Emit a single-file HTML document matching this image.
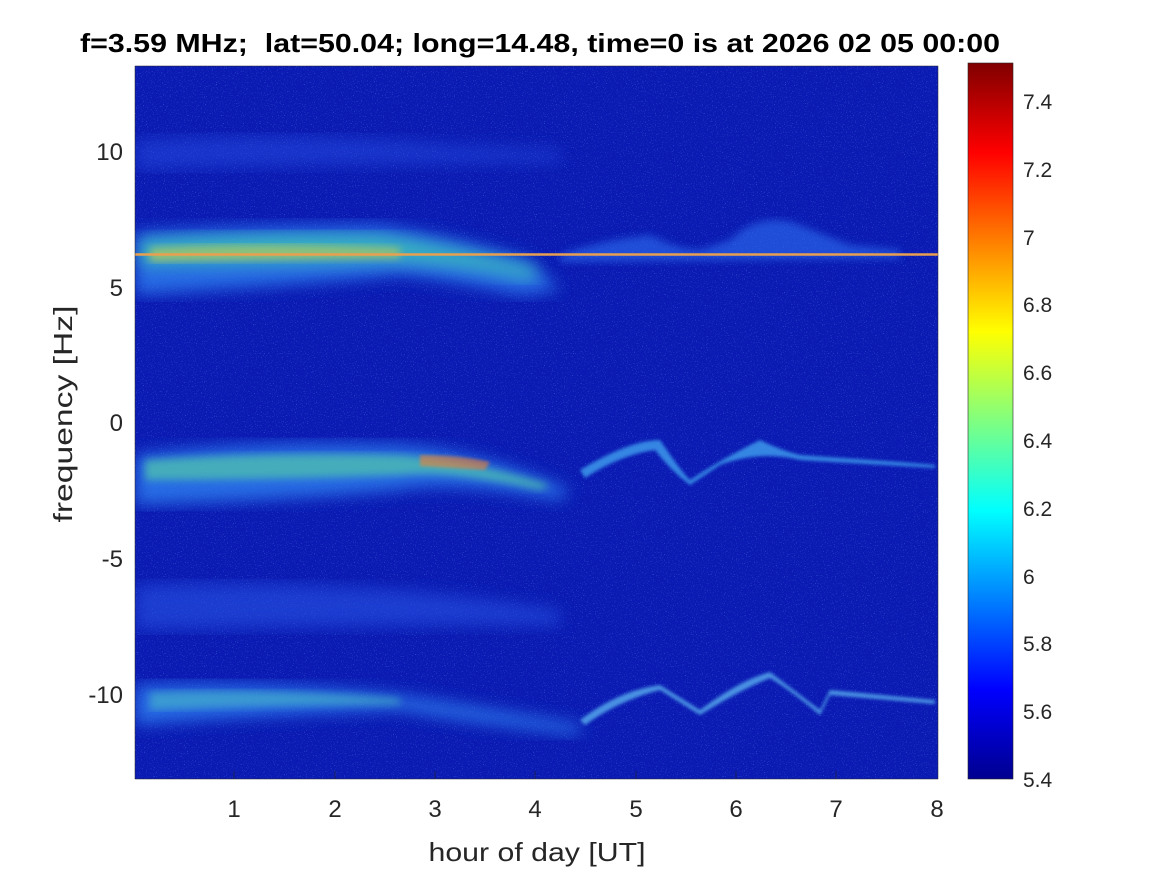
<!DOCTYPE html>
<html><head><style>
body{margin:0;background:#fff;width:1167px;height:875px;overflow:hidden}
svg text{font-family:"Liberation Sans",sans-serif}
</style></head><body>
<svg width="1167" height="875" xmlns="http://www.w3.org/2000/svg">
<defs>
<filter id="b8"><feGaussianBlur stdDeviation="8"/></filter>
<filter id="b4"><feGaussianBlur stdDeviation="4"/></filter>
<filter id="b2"><feGaussianBlur stdDeviation="1.5"/></filter>
<filter id="noise" x="0" y="0" width="100%" height="100%">
<feTurbulence type="fractalNoise" baseFrequency="0.9" numOctaves="1" seed="3"/>
<feColorMatrix values="0 0 0 0 0.15  0 0 0 0 0.4  0 0 0 0 1  0 0 0 3 -1.8"/>
</filter>
<linearGradient id="jet" x1="0" y1="1" x2="0" y2="0">
<stop offset="0" stop-color="#00008f"/>
<stop offset="0.125" stop-color="#0000ff"/>
<stop offset="0.375" stop-color="#00ffff"/>
<stop offset="0.5" stop-color="#80ff80"/>
<stop offset="0.625" stop-color="#ffff00"/>
<stop offset="0.875" stop-color="#ff0000"/>
<stop offset="1" stop-color="#800000"/>
</linearGradient>
<clipPath id="cp"><rect x="135" y="66" width="803" height="713"/></clipPath>
</defs>
<rect x="135" y="66" width="803" height="713" fill="#0a1ab2"/>
<g clip-path="url(#cp)">
<rect x="135" y="66" width="803" height="713" filter="url(#noise)" opacity="0.7"/>
<path d="M135 140 Q300 130 450 145 L560 150 L560 162 Q300 165 135 170Z" fill="#2a55e8" opacity="0.45" filter="url(#b8)"/>
<path d="M135 232 Q250 225 380 225 Q450 235 530 260 L560 290 L520 295 Q450 280 400 275 Q300 285 135 295Z" fill="#2e7ff0" opacity="0.8" filter="url(#b8)"/>
<path d="M140 240 Q260 232 380 235 Q450 245 540 270 L530 280 Q450 262 380 262 Q260 265 140 265Z" fill="#40d0b0" opacity="0.7" filter="url(#b8)"/>
<path d="M150 248 Q260 242 400 248 L400 258 Q260 260 150 262Z" fill="#d8d040" opacity="0.55" filter="url(#b4)"/>
<path d="M560 255 Q600 240 650 235 Q680 250 700 250 L730 240 Q760 210 800 225 L850 245 L900 250 L900 258 L560 262Z" fill="#2f70f0" opacity="0.6" filter="url(#b4)"/>
<path d="M135 455 Q250 440 400 445 Q480 450 570 490 L560 500 Q450 480 400 490 Q300 500 135 505Z" fill="#2e80f0" opacity="0.8" filter="url(#b8)"/>
<path d="M145 460 Q260 452 400 455 Q470 460 550 485 L540 490 Q450 470 400 475 Q260 480 145 480Z" fill="#58d8a0" opacity="0.6" filter="url(#b4)"/>
<path d="M420 455 Q460 455 490 462 L485 470 Q455 468 420 466Z" fill="#f08030" opacity="0.6" filter="url(#b2)"/>
<path d="M580 470 Q630 440 660 440 Q680 470 690 480 Q720 460 760 440 Q780 450 800 455 L900 462 L935 465 L935 468 L800 460 Q760 450 720 465 L690 485 Q670 470 655 450 Q620 455 585 478Z" fill="#40a0f0" opacity="0.8" filter="url(#b2)"/>
<path d="M135 585 Q250 580 400 590 Q460 595 560 610 L560 625 Q400 625 135 630Z" fill="#2a58e8" opacity="0.55" filter="url(#b8)"/>
<path d="M135 685 Q260 680 400 695 Q500 710 580 725 L580 735 Q450 720 400 710 Q260 715 135 725Z" fill="#2e7ff0" opacity="0.8" filter="url(#b8)"/>
<path d="M150 692 Q270 688 400 698 L400 705 Q270 705 150 710Z" fill="#50c8c0" opacity="0.5" filter="url(#b4)"/>
<path d="M580 720 Q620 690 660 685 L700 710 Q740 680 770 672 L820 710 L830 690 L935 700 L935 704 L830 695 L820 715 Q790 690 770 678 Q740 690 700 715 L660 690 Q620 700 585 725Z" fill="#5ab0f0" opacity="0.8" filter="url(#b2)"/>
<line x1="135" y1="254.5" x2="938" y2="254.5" stroke="#e8a050" stroke-width="2.5"/>
</g>
<rect x="135" y="66" width="803" height="713" fill="none" stroke="#262626" stroke-width="0.5"/>
<g stroke="#262626" stroke-width="0.6">
<line x1="234" y1="779" x2="234" y2="771"/><line x1="335" y1="779" x2="335" y2="771"/><line x1="435" y1="779" x2="435" y2="771"/><line x1="535" y1="779" x2="535" y2="771"/><line x1="636" y1="779" x2="636" y2="771"/><line x1="736" y1="779" x2="736" y2="771"/><line x1="836" y1="779" x2="836" y2="771"/>
</g>
<g font-size="24" fill="#262626" text-anchor="middle">
<text x="234" y="817">1</text><text x="335" y="817">2</text><text x="435" y="817">3</text><text x="535" y="817">4</text><text x="636" y="817">5</text><text x="736" y="817">6</text><text x="836" y="817">7</text><text x="937" y="817">8</text>
</g>
<g font-size="24" fill="#262626" text-anchor="end">
<text x="123" y="160">10</text><text x="123" y="296">5</text><text x="123" y="431">0</text><text x="123" y="567">-5</text><text x="123" y="703">-10</text>
</g>
<text x="537" y="861" font-size="26" fill="#262626" text-anchor="middle" textLength="217" lengthAdjust="spacingAndGlyphs">hour of day [UT]</text>
<text transform="translate(72,414) rotate(-90)" font-size="26" fill="#262626" text-anchor="middle" textLength="217" lengthAdjust="spacingAndGlyphs">frequency [Hz]</text>
<text x="540" y="52" font-size="26" font-weight="bold" fill="#000" text-anchor="middle" textLength="920" lengthAdjust="spacingAndGlyphs">f=3.59 MHz;&#160; lat=50.04; long=14.48, time=0 is at 2026 02 05 00:00</text>
<rect x="968" y="63" width="45" height="716" fill="url(#jet)" stroke="#262626" stroke-width="0.6"/>
<g font-size="21" fill="#262626">
<text x="1023" y="109">7.4</text><text x="1023" y="177">7.2</text><text x="1023" y="245">7</text><text x="1023" y="312">6.8</text><text x="1023" y="380">6.6</text><text x="1023" y="448">6.4</text><text x="1023" y="516">6.2</text><text x="1023" y="584">6</text><text x="1023" y="651">5.8</text><text x="1023" y="719">5.6</text><text x="1023" y="787">5.4</text>
</g>
</svg>
</body></html>
